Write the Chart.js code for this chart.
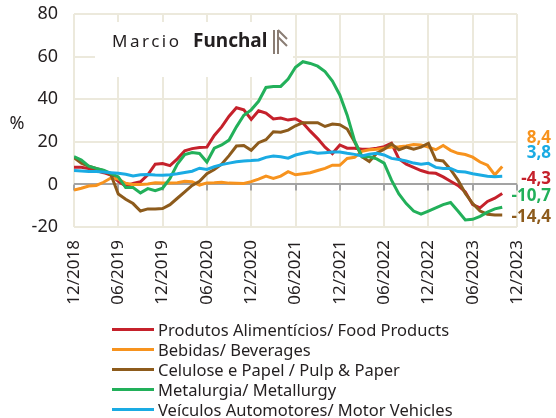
<!DOCTYPE html>
<html>
<head>
<meta charset="utf-8">
<script src="https://cdn.jsdelivr.net/npm/chart.js@4"></script>
<style>
  html, body { margin: 0; padding: 0; background: #fff; }
  #wrap { position: relative; width: 556px; height: 418px; overflow: hidden; }
  #legend { position: absolute; left: 112px; top: 319px; font: 16.5px "Noto Sans", sans-serif; color: #231f20; }
  .item { height: 20px; display: flex; align-items: center; white-space: nowrap; }
  .sw { width: 42px; height: 3px; margin-right: 4px; }
</style>
</head>
<body>
<div id="wrap">
  <canvas id="chart" width="556" height="418"></canvas>
  <div id="legend"></div>
</div>
<script>
// meses de 12/2018 (0) ate 10/2023 (58), eixo vai ate 12/2023 (60)
const xTickLabels = ["12/2018", "06/2019", "12/2019", "06/2020", "12/2020", "06/2021",
  "12/2021", "06/2022", "12/2022", "06/2023", "12/2023"];

const seriesNames = [
  "Produtos Alimentícios/ Food Products",
  "Bebidas/ Beverages",
  "Celulose e Papel / Pulp & Paper",
  "Metalurgia/ Metallurgy",
  "Veículos Automotores/ Motor Vehicles",
];

const foodProducts = [8, 8, 7.4, 6.5, 5.5, 4.4, 1.5, -0.8, 0.5, 1.2, 4.5, 9.5, 9.8, 8.8, 12, 15.8,
  16.8, 17.3, 17.5, 23, 27, 32, 36, 35, 30.5, 34.6, 33.5, 30.7, 31.2, 30.2, 30.8, 28.8, 25, 21.5,
  17.5, 14.5, 18.5, 17, 17, 16.5, 16.5, 17, 17.7, 19.3, 12, 9.5, 8, 6.5, 5.5, 5.2, 3.5, 1.5, -0.5,
  -3.5, -9.5, -11, -8, -6.5, -4.3];

const beverages = [-2.7, -1.8, -0.8, -0.5, 1, 3, 2.5, 0.5, 0, 0, 0.2, 0.8, 0.7, 0.6, 0.8, 1.5,
  1.2, -0.3, 0.7, 0.8, 1, 0.6, 0.5, 0.4, 1.3, 2.5, 3.9, 2.8, 3.9, 6, 4.5, 5, 5.5, 6.5, 7.5, 9, 9,
  12.2, 12.7, 15.5, 16.3, 16.5, 17, 17.5, 17.7, 18, 18.7, 18.5, 17.5, 16.3, 18.3, 16, 14.6, 14,
  12.8, 10.5, 9, 4.5, 8.4];

const pulpPaper = [12.5, 10, 8.5, 7.5, 6.5, 4.5, -4.5, -7, -9, -12.5, -11.5, -11.5, -11.3, -9.5,
  -6.5, -3.5, -0.5, 1.5, 5, 7, 9.5, 13.5, 18, 18.3, 16, 19.6, 21, 24.7, 24.5, 25.5, 27.5, 29, 29,
  29, 27.2, 28.3, 28, 26, 20, 13, 10.7, 14.6, 16.5, 19, 16.2, 17.5, 16.5, 17.5, 19.3, 11.5, 11, 7,
  2, -4.2, -9, -12.5, -14, -14.4, -14.4];

const metallurgy = [13, 11.4, 8.6, 7.5, 6.7, 5.2, 3.5, -1.5, -1.5, -4, -2, -3, -1.8, 2.8, 9.5,
  14, 15, 14.5, 10.5, 17, 18.5, 20.8, 27, 32.5, 35, 39, 45.5, 46, 46, 49.5, 55, 57.6, 56.8, 55.5,
  53, 48.5, 42, 32.5, 20.5, 13, 13, 12, 10, 2, -4.5, -9, -12.5, -14, -12.5, -11, -9.5, -8.5, -12.5,
  -16.7, -16.4, -15, -13, -11.5, -10.7];

const motorVehicles = [6.5, 6.3, 6.1, 6, 5.8, 5.5, 5.2, 4.8, 4, 4.5, 4.6, 4.4, 4.3, 4.5, 5, 5.6,
  6.2, 7.6, 7, 8.3, 9.3, 10, 10.6, 11, 11.2, 11.5, 12.7, 13.3, 13, 12.3, 13.8, 14.6, 15.3, 14.6,
  14.9, 15.2, 15.2, 14.6, 14.1, 13.3, 14.2, 14.6, 13.8, 12.2, 11.7, 11, 10, 9.5, 9.9, 8, 7.5, 7.5,
  6, 5.8, 5, 4.4, 3.8, 3.6, 3.8];

const allSeries = [foodProducts, beverages, pulpPaper, metallurgy, motorVehicles];
const colors = ["#c5212b", "#f7931e", "#8d5b1c", "#22b05a", "#1aabe3"];
const endLabelNudge = [-14, -28, 2, -11, -23];   // px, para separar os rotulos finais
const drawOrder = [4, 3, 2, 1, 0];               // azul por cima, como no Excel

const textColor = "#231f20";
const gridColor = "#ece9dc";
const FONT = "'Noto Sans', sans-serif";

const toPoints = arr => arr.map((v, i) => ({ x: i, y: v }));

const fmt = v => v.toFixed(1).replace(".", ",");

// legenda em HTML, um item por linha
const legendEl = document.getElementById("legend");
seriesNames.forEach((name, i) => {
  const row = document.createElement("div");
  row.className = "item";
  row.innerHTML = '<span class="sw" style="background:' + colors[i] + '"></span><span></span>';
  row.lastChild.textContent = name;
  legendEl.appendChild(row);
});

const extrasPlugin = {
  id: "extras",
  beforeDatasetsDraw(chart) {
    const { ctx, scales: { x, y } } = chart;
    const y0 = y.getPixelForValue(0);
    ctx.save();
    // tracinhos abaixo da linha do zero
    ctx.strokeStyle = "#a3a3a3";
    ctx.lineWidth = 2;
    for (let v = 0; v <= 60; v += 6) {
      const px = Math.round(x.getPixelForValue(v));
      ctx.beginPath();
      ctx.moveTo(px, y0);
      ctx.lineTo(px, y0 + 6);
      ctx.stroke();
    }
    // logo
    ctx.fillStyle = "#fff";
    ctx.fillRect(95, 22, 198, 55);
    ctx.fillStyle = textColor;
    ctx.textBaseline = "alphabetic";
    ctx.textAlign = "left";
    ctx.font = "17px " + FONT;
    ctx.letterSpacing = "2.5px";
    ctx.fillText("Marcio", 112, 47);
    ctx.letterSpacing = "0px";
    ctx.font = "bold 19px " + FONT;
    ctx.fillText("Funchal", 193, 47);
    ctx.strokeStyle = "#8a7d74";
    ctx.lineWidth = 2;
    ctx.beginPath();
    ctx.moveTo(274, 54); ctx.lineTo(274, 30);
    ctx.moveTo(278, 54); ctx.lineTo(278, 30);
    ctx.moveTo(278, 30); ctx.lineTo(287, 39);
    ctx.moveTo(278, 37); ctx.lineTo(287, 46);
    ctx.stroke();
    // unidade do eixo
    ctx.font = "18px " + FONT;
    ctx.textAlign = "center";
    ctx.textBaseline = "middle";
    ctx.fillText("%", 17, 124);
    ctx.restore();
  },
  afterDatasetsDraw(chart) {
    const { ctx, scales: { y } } = chart;
    ctx.save();
    ctx.font = "bold 17px " + FONT;
    ctx.textAlign = "right";
    ctx.textBaseline = "middle";
    allSeries.forEach((arr, i) => {
      const last = arr[arr.length - 1];
      ctx.fillStyle = colors[i];
      ctx.fillText(fmt(last), 551, y.getPixelForValue(last) + endLabelNudge[i]);
    });
    ctx.restore();
  },
};

const ctx = document.getElementById("chart").getContext("2d");
const chart = new Chart(ctx, {
  type: "line",
  data: {
    datasets: allSeries.map((arr, i) => ({
      label: seriesNames[i],
      data: toPoints(arr),
      borderColor: colors[i],
      backgroundColor: colors[i],
      borderWidth: 3,
      pointRadius: 0,
      tension: 0,
      fill: false,
      order: drawOrder[i],
    })),
  },
  options: {
    responsive: false,
    animation: false,
    layout: { padding: { left: 0, right: 39, top: 14, bottom: 91 } },
    scales: {
      x: {
        type: "linear",
        min: 0,
        max: 60,
        grid: { color: gridColor, lineWidth: 2, drawTicks: false },
        border: { display: false },
        ticks: {
          stepSize: 6,
          autoSkip: false,
          minRotation: 90,
          maxRotation: 90,
          padding: 13,
          color: textColor,
          font: { family: FONT, size: 17 },
          callback: v => xTickLabels[v / 6],
        },
        afterFit: s => { s.height = 100; s.paddingLeft = 0; s.paddingRight = 0; },
      },
      y: {
        min: -20,
        max: 80,
        grid: {
          color: c => (c.tick && c.tick.value === 0 ? "#a3a3a3" : gridColor),
          lineWidth: 2,
          drawTicks: false,
        },
        border: { display: false },
        ticks: {
          stepSize: 20,
          padding: 16,
          color: textColor,
          font: { family: FONT, size: 18 },
        },
        afterFit: s => { s.width = 74; s.paddingTop = 0; s.paddingBottom = 0; },
      },
    },
    plugins: {
      legend: { display: false },
      tooltip: { enabled: false },
    },
  },
  plugins: [extrasPlugin],
});
</script>
</body>
</html>
